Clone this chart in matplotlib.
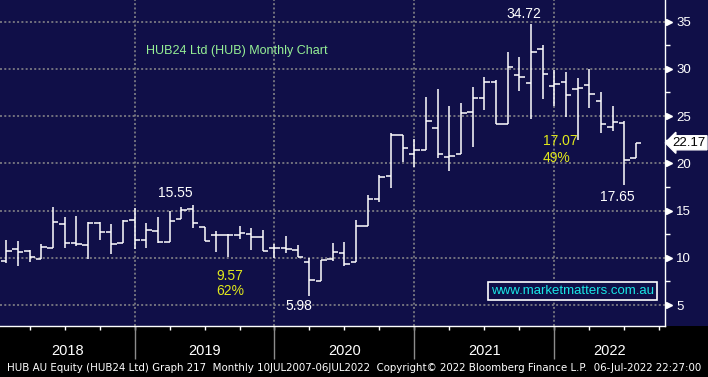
import numpy as np
import matplotlib.pyplot as plt
import matplotlib.transforms as mtransforms
from matplotlib.patches import Rectangle

# Monthly OHLC, Jan 2018 .. Jul 2022 (HUB24)
opens = [9.66, 10.89, 10.71, 9.83, 11.00, 13.54, 11.53, 11.31, 13.64, 12.69, 11.53, 13.96,
         11.84, 12.80, 11.63, 14.07, 15.12, 13.22, 12.41, 12.41, 12.41, 12.52, 12.23, 11.00,
         11.00, 10.82, 9.59, 7.54, 9.83, 10.54, 9.52, 13.32, 16.18, 18.62, 22.95, 20.98,
         21.37, 23.74, 20.62, 20.98, 25.39, 26.87, 28.60, 24.12, 29.30, 28.46, 32.06, 28.17,
         28.56, 27.82, 28.28, 26.55, 23.80, 24.27, 20.52]
highs = [11.88, 11.77, 10.79, 11.46, 15.34, 14.31, 14.42, 13.75, 13.75, 13.57, 13.99, 15.26,
         13.64, 14.31, 14.95, 15.34, 15.55, 13.22, 12.87, 12.52, 13.36, 13.18, 12.90, 11.42,
         12.30, 11.31, 10.01, 9.76, 11.60, 11.63, 13.99, 16.64, 18.72, 23.20, 22.99, 22.53,
         27.01, 27.86, 26.06, 26.38, 28.07, 29.09, 28.81, 31.74, 31.20, 34.72, 32.52, 29.87,
         29.62, 28.99, 29.94, 27.50, 26.06, 24.45, 22.17]
lows = [9.48, 9.16, 9.59, 9.83, 11.00, 11.07, 11.28, 9.90, 11.88, 10.40, 11.53, 10.89,
        11.03, 11.60, 11.63, 14.07, 13.18, 11.81, 10.64, 10.04, 11.98, 10.82, 10.75, 9.94,
        10.54, 10.04, 5.98, 7.54, 9.66, 9.13, 9.52, 13.32, 15.85, 17.41, 20.17, 19.64,
        21.37, 20.60, 19.21, 20.98, 21.75, 25.67, 24.12, 24.12, 27.68, 24.65, 26.83, 26.09,
        24.93, 22.46, 25.81, 23.17, 23.45, 17.65, 20.52]
closes = [10.71, 10.61, 10.04, 11.10, 13.75, 11.53, 11.42, 13.64, 12.69, 11.42, 13.85, 11.84,
          12.90, 11.63, 13.85, 15.05, 13.64, 11.81, 12.41, 12.41, 12.66, 12.23, 10.75, 11.07,
          10.93, 10.04, 7.65, 9.76, 10.61, 9.31, 13.32, 16.18, 18.51, 22.95, 21.58, 21.37,
          24.44, 20.95, 20.73, 25.28, 26.87, 28.60, 24.12, 30.15, 29.09, 31.74, 29.44, 28.35,
          27.22, 28.00, 27.32, 24.12, 24.38, 20.34, 22.17]
years = [2018, 2019, 2020, 2021, 2022]
y_ticks = [5, 10, 15, 20, 25, 30, 35]
last_price = "22.17"
footer = ("HUB AU Equity (HUB24 Ltd) Graph 217  Monthly 10JUL2007-06JUL2022  "
          "Copyright\u00a9 2022 Bloomberg Finance L.P.  06-Jul-2022 22:27:00")

navy = '#100f48'
grid_kw = dict(color='#8c8c8c', lw=1.1, ls=(0, (1.3, 1.5)))
plt.rcParams['font.family'] = ['Liberation Sans', 'DejaVu Sans']

fig = plt.figure(figsize=(7.08, 3.77), dpi=100, facecolor='black')
bottom = 1 - 326 / 377
fig.patches.append(Rectangle((0, bottom), 1, 1 - bottom, transform=fig.transFigure,
                             facecolor=navy, edgecolor='none', zorder=-10))
ax = fig.add_axes([0, bottom, 665 / 708, 1 - bottom], facecolor=navy)

x = np.arange(len(opens))
dec_idx = [11 + 12 * i for i in range(len(years) - 1)]

# grid
for v in y_ticks:
    ax.axhline(v, **grid_kw, zorder=1)
for d in dec_idx:
    ax.axvline(d, **grid_kw, zorder=1)

# OHLC bars
w = 0.47
ax.vlines(x, lows, highs, color='white', lw=1.1, zorder=3)
ax.hlines(opens, x - w, x, color='white', lw=1.1, zorder=3)
ax.hlines(closes, x, x + w, color='white', lw=1.1, zorder=3)

ax.set_xlim(-0.54, 56.49)
ax.set_ylim(2.78, 37.28)

for s in ['left', 'top']:
    ax.spines[s].set_visible(False)
for s in ['right', 'bottom']:
    ax.spines[s].set_color('white')
    ax.spines[s].set_linewidth(1.0)

# right axis
ax.yaxis.tick_right()
ax.set_yticks(y_ticks)
ax.set_yticks([v + 2.5 for v in y_ticks[:-1]], minor=True)
ax.tick_params(axis='y', which='major', length=0, pad=8, labelsize=9.5, labelcolor='white')
ax.tick_params(axis='y', which='minor', length=3.5, color='white', width=1)
trans_r = mtransforms.blended_transform_factory(ax.transAxes, ax.transData)
ax.plot([1.0055] * len(y_ticks), y_ticks, ls='none', marker='>', ms=5, color='white',
        transform=trans_r, clip_on=False, zorder=5)

# bottom axis: quarter-end ticks, year separators and labels
ax.set_xticks([k for k in range(2, 57, 3)])
ax.set_xticklabels([])
ax.tick_params(axis='x', which='major', length=3, color='white', width=1)
trans_b = mtransforms.blended_transform_factory(ax.transData, ax.transAxes)
ax.vlines(dec_idx, -0.1, 0, color='#8c8c8c', lw=1.0, transform=trans_b, clip_on=False)
bounds = [ax.get_xlim()[0]] + dec_idx + [ax.get_xlim()[1]]
for i, yr in enumerate(years):
    ax.text((bounds[i] + bounds[i + 1]) / 2, -0.078, str(yr), transform=trans_b,
            ha='center', va='center', color='white', fontsize=10.5)

fig.text(0.5, 1 - 368 / 377, footer, ha='center', va='center', color='white',
         fontsize=7.4, family='DejaVu Sans')

# last price marker
ax.text(1.0115, float(last_price), last_price, transform=trans_r, ha='left', va='center',
        fontsize=9.5, color='black', zorder=6,
        bbox=dict(boxstyle='larrow,pad=0.08', fc='white', ec='white'))

# annotations
ax.text(11.98, 31.88, "HUB24 Ltd (HUB) Monthly Chart", color='#96f096', fontsize=9,
        ha='left', va='center')
white_notes = [("15.55", 14.47, 16.85), ("5.98", 25.1, 4.89), ("34.72", 44.4, 35.79),
               ("17.65", 52.37, 16.43)]
for t, xx, yy in white_notes:
    ax.text(xx, yy, t, color='white', fontsize=10, ha='center', va='center')
yellow = '#e0e81c'
ax.text(18.0, 8.07, "9.57", color=yellow, fontsize=10, ha='left', va='center')
ax.text(18.0, 6.48, "62%", color=yellow, fontsize=10, ha='left', va='center')
ax.text(46.03, 22.35, "17.07", color=yellow, fontsize=10, ha='left', va='center')
ax.text(46.03, 20.56, "49%", color=yellow, fontsize=10, ha='left', va='center')

ax.text(48.56, 6.48, "www.marketmatters.com.au", color='#19e6e6', fontsize=9.5,
        ha='center', va='center', zorder=6,
        bbox=dict(boxstyle='square,pad=0.2', fc=navy, ec='white', lw=1.2))

fig.savefig('out.png', dpi=100, facecolor='black')
